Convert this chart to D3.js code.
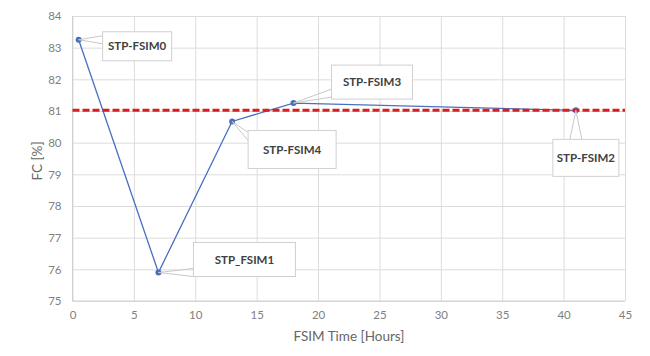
<!DOCTYPE html>
<html>
<head>
<meta charset="utf-8">
<script src="https://cdn.jsdelivr.net/npm/d3@7"></script>
<style>
  html, body { margin: 0; padding: 0; background: #fff; }
  svg { display: block; }
</style>
</head>
<body>
<svg id="chart" width="650" height="356"></svg>
<script>
// ---- data ----
const labels = ["STP-FSIM0", "STP_FSIM1", "STP-FSIM4", "STP-FSIM3", "STP-FSIM2"];
const hours  = [0.5, 7, 13, 18, 41];
const fc     = [83.25, 75.9, 80.67, 81.25, 81.02];
const threshold = 81.02;
const xTicks = [0, 5, 10, 15, 20, 25, 30, 35, 40, 45];
const yTicks = [75, 76, 77, 78, 79, 80, 81, 82, 83, 84];

// label box offsets relative to point (dx, dy of box top-left, width, height)
const boxLayout = [
  { dx: 24,  dy: -8,  w: 69,  h: 29 },
  { dx: 35,  dy: -30, w: 102, h: 34 },
  { dx: 16,  dy: 9,   w: 88,  h: 38 },
  { dx: 38,  dy: -38, w: 81,  h: 34 },
  { dx: -23, dy: 29,  w: 66,  h: 37 }
];

const svg = d3.select("#chart");
const m = { left: 72.5, right: 625, top: 16, bottom: 301 };

const x = d3.scaleLinear().domain([0, 45]).range([m.left, m.right]);
const y = d3.scaleLinear().domain([75, 84]).range([m.bottom, m.top]);

const font = "Lato, 'Open Sans', sans-serif";

// grid
svg.append("g")
  .attr("transform", `translate(0,${m.bottom})`)
  .call(d3.axisBottom(x).tickValues(xTicks).tickSize(-(m.bottom - m.top)).tickFormat(""))
  .call(g => g.select(".domain").remove())
  .call(g => g.selectAll("line").attr("stroke", "#dcdcdc").attr("stroke-width", 1));
svg.append("g")
  .attr("transform", `translate(${m.left},0)`)
  .call(d3.axisLeft(y).tickValues(yTicks).tickSize(-(m.right - m.left)).tickFormat(""))
  .call(g => g.select(".domain").remove())
  .call(g => g.selectAll("line").attr("stroke", "#dcdcdc").attr("stroke-width", 1));

// axis lines
svg.append("line").attr("x1", m.left).attr("x2", m.left).attr("y1", m.top).attr("y2", m.bottom)
  .attr("stroke", "#d0d0d0");
svg.append("line").attr("x1", m.left).attr("x2", m.right).attr("y1", m.bottom).attr("y2", m.bottom)
  .attr("stroke", "#d0d0d0");

// tick labels
svg.append("g")
  .attr("transform", `translate(0,${m.bottom})`)
  .call(d3.axisBottom(x).tickValues(xTicks).tickSize(0).tickPadding(10))
  .call(g => g.select(".domain").remove())
  .call(g => g.selectAll("text").attr("fill", "#808080").style("font-family", font).style("font-size", "11.5px"));
svg.append("g")
  .attr("transform", `translate(${m.left},0)`)
  .call(d3.axisLeft(y).tickValues(yTicks).tickSize(0).tickPadding(11))
  .call(g => g.select(".domain").remove())
  .call(g => g.selectAll("text").attr("fill", "#808080").style("font-family", font).style("font-size", "11.5px"));

// axis titles
svg.append("text").attr("x", 349).attr("y", 341)
  .attr("text-anchor", "middle").attr("fill", "#666").style("font-family", font).style("font-size", "13.5px")
  .text("FSIM Time [Hours]");
svg.append("text").attr("transform", `translate(42,161) rotate(-90)`)
  .attr("text-anchor", "middle").attr("fill", "#666").style("font-family", font).style("font-size", "13.5px")
  .text("FC [%]");

// data
const pts = hours.map((h, i) => ({ h, v: fc[i], label: labels[i], box: boxLayout[i] }));
const sorted = pts.slice().sort((a, b) => a.h - b.h);

svg.append("path")
  .datum(sorted)
  .attr("fill", "none")
  .attr("stroke", "#4a6fbf")
  .attr("stroke-width", 1.3)
  .attr("d", d3.line().x(d => x(d.h)).y(d => y(d.v)));

svg.selectAll("circle.pt").data(pts).enter().append("circle")
  .attr("class", "pt")
  .attr("cx", d => x(d.h)).attr("cy", d => y(d.v)).attr("r", 3)
  .attr("fill", "#4a6fbf");

// threshold line
svg.append("line")
  .attr("x1", m.left).attr("x2", m.right)
  .attr("y1", y(threshold)).attr("y2", y(threshold))
  .attr("stroke", "#d81e1e").attr("stroke-width", 3)
  .attr("stroke-dasharray", "7,3");

// callouts
const callouts = svg.append("g");
pts.forEach(d => {
  const px = x(d.h), py = y(d.v);
  const bx = px + d.box.dx, by = py + d.box.dy, bw = d.box.w, bh = d.box.h;
  let a, b;
  if (bx > px + 2) { // box to the right
    const cy = Math.max(by + 4, Math.min(by + bh - 4, py));
    a = [bx, cy - 4]; b = [bx, cy + 4];
    if (py > by + bh) { a = [bx, by + bh - 10]; b = [bx, by + bh - 2]; }
    if (py < by) { a = [bx, by + 2]; b = [bx, by + 10]; }
  } else { // box below
    const cx = Math.max(bx + 6, Math.min(bx + bw - 6, px));
    a = [cx - 6, by]; b = [cx + 6, by];
  }
  callouts.append("path")
    .attr("d", `M${a[0]},${a[1]} L${px},${py} L${b[0]},${b[1]}`)
    .attr("fill", "none").attr("stroke", "#c8c8c8").attr("stroke-width", 1);
  callouts.append("rect")
    .attr("x", bx).attr("y", by).attr("width", bw).attr("height", bh)
    .attr("fill", "#fff").attr("stroke", "#d0d0d0").attr("stroke-width", 1);
  callouts.append("text")
    .attr("x", bx + bw / 2).attr("y", by + bh / 2)
    .attr("dy", "0.36em").attr("text-anchor", "middle")
    .attr("fill", "#404040").style("font-family", font).style("font-size", "11.5px").style("font-weight", "bold")
    .text(d.label);
});
</script>
</body>
</html>
